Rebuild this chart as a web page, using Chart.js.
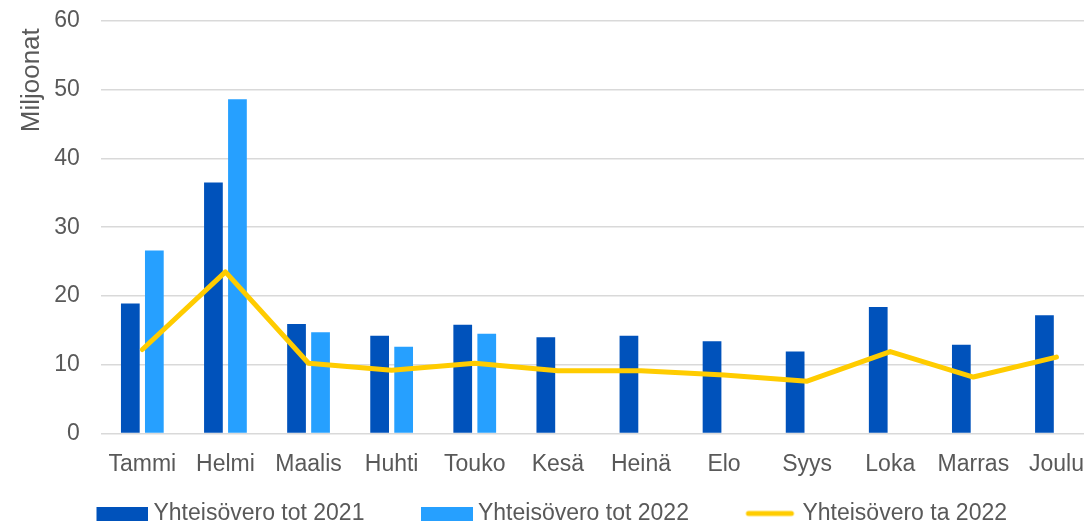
<!DOCTYPE html>
<html>
<head>
<meta charset="utf-8">
<script src="https://cdn.jsdelivr.net/npm/chart.js@4.4.1/dist/chart.umd.min.js"></script>
<style>
  html, body { margin: 0; padding: 0; background: #fff; overflow: hidden; }
  #wrap { width: 1100px; height: 523px; }
</style>
</head>
<body>
<div id="wrap"><canvas id="chart"></canvas></div>
<script>
// Kuukaudet ja arvot (milj. euroa), luettu kuvasta
const months = ['Tammi', 'Helmi', 'Maalis', 'Huhti', 'Touko', 'Kesä', 'Heinä', 'Elo', 'Syys', 'Loka', 'Marras', 'Joulu'];
const tot2021 = [18.9, 36.5, 15.9, 14.2, 15.8, 14.0, 14.2, 13.4, 11.9, 18.4, 12.9, 17.2];
const tot2022 = [26.6, 48.6, 14.7, 12.6, 14.5, null, null, null, null, null, null, null];
const ta2022 = [12.2, 23.5, 10.2, 9.2, 10.2, 9.1, 9.1, 8.5, 7.6, 11.9, 8.2, 11.1];
const yTicks = [0, 10, 20, 30, 40, 50, 60];

const DARK = '#0052BB';
const LIGHT = '#26A0FF';
const YELLOW = '#FFCC00';
const TEXT = '#595959';

// legendan symbolit kuvina (laatikko tai viiva oikeassa reunassa)
function legendIcon(color, isLine) {
    const c = document.createElement('canvas');
    c.width = 100;
    c.height = 14;
    const g = c.getContext('2d');
    if (isLine) {
        g.strokeStyle = color;
        g.lineWidth = 5;
        g.lineCap = 'round';
        g.beginPath();
        g.moveTo(51, 7);
        g.lineTo(94, 7);
        g.stroke();
    } else {
        g.fillStyle = color;
        g.fillRect(48, 0, 52, 14);
    }
    return c;
}

const icons = [legendIcon(DARK), legendIcon(LIGHT), legendIcon(YELLOW, true)];

const legendShift = {
    id: 'legendShift',
    afterLayout(chart) {
        chart.legend.left -= 23;
        chart.legend.right -= 23;
    }
};

Chart.defaults.font.family = "'Liberation Sans', Arial, sans-serif";
Chart.defaults.font.size = 23;
Chart.defaults.color = TEXT;

new Chart(document.getElementById('chart'), {
    type: 'bar',
    data: {
        labels: months,
        datasets: [
            {
                label: 'Yhteisövero tot 2021',
                data: tot2021,
                backgroundColor: DARK,
                order: 1
            },
            {
                label: 'Yhteisövero tot 2022',
                data: tot2022,
                backgroundColor: LIGHT,
                order: 1
            },
            {
                type: 'line',
                label: 'Yhteisövero ta 2022',
                data: ta2022,
                borderColor: YELLOW,
                backgroundColor: YELLOW,
                borderWidth: 5,
                borderJoinStyle: 'round',
                borderCapStyle: 'round',
                pointRadius: 0,
                tension: 0,
                order: 0
            }
        ]
    },
    options: {
        responsive: true,
        maintainAspectRatio: false,
        animation: false,
        layout: { padding: { top: 0, left: 10, right: 2, bottom: -12 } },
        datasets: {
            bar: { categoryPercentage: 0.578, barPercentage: 0.78 }
        },
        scales: {
            x: {
                grid: { display: false },
                border: { display: false },
                ticks: { padding: 9, maxRotation: 0, autoSkip: false, color: TEXT }
            },
            y: {
                min: 0,
                max: 60,
                afterBuildTicks: (scale) => { scale.ticks = yTicks.map(v => ({ value: v })); },
                afterFit: (scale) => { scale.paddingTop = 21; },
                grid: { color: '#D9D9D9', lineWidth: 1.5, drawTicks: false },
                border: { display: false },
                ticks: { padding: 21, color: TEXT },
                title: {
                    display: true,
                    text: 'Miljoonat ',
                    align: 'end',
                    color: TEXT,
                    font: { size: 26 },
                    padding: { top: 6, bottom: -14 }
                }
            }
        },
        plugins: {
            tooltip: { enabled: false },
            legend: {
                position: 'bottom',
                labels: {
                    usePointStyle: true,
                    pointStyleWidth: 87,
                    padding: 15,
                    color: TEXT,
                    generateLabels: (chart) => chart.data.datasets.map((ds, i) => ({
                        text: ds.label,
                        pointStyle: icons[i],
                        fontColor: TEXT,
                        lineWidth: 0,
                        strokeStyle: 'transparent',
                        fillStyle: 'transparent',
                        datasetIndex: i
                    }))
                }
            }
        }
    },
    plugins: [legendShift]
});
</script>
</body>
</html>
